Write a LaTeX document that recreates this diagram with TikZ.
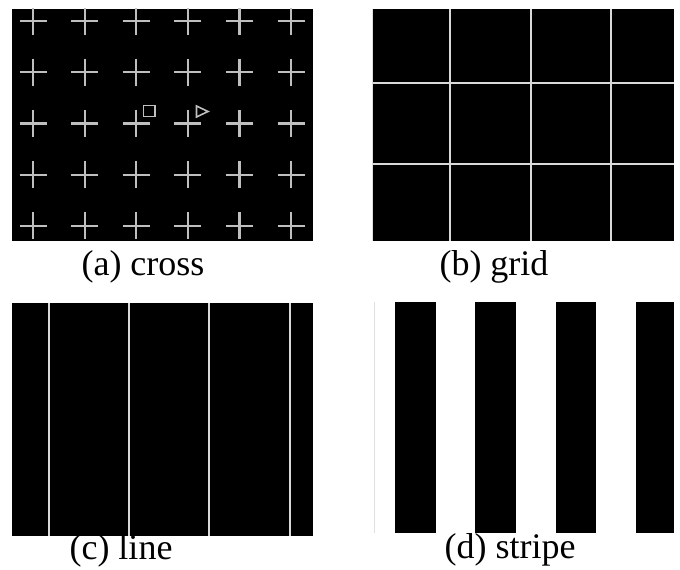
\documentclass[tikz,border=0pt]{standalone}
\usepackage{fontspec}
\setmainfont{Liberation Serif}
\usepackage{tikz}
\usetikzlibrary{positioning}

\begin{document}
\begin{tikzpicture}[x=1pt,y=-1pt,
  wline/.style={draw=gray!30,line width=1.8pt},
  caption/.style={anchor=base,inner sep=0pt,font=\fontsize{36}{42}\selectfont}]
\useasboundingbox (0,0) rectangle (680,570);
% (a) crosses
\fill[black] (12,9) rectangle (313,241);
\foreach \i in {0,...,5}{
  \foreach \j in {0,...,4}{
    \draw[wline,draw=gray!50,line width=2.2pt] ({33+51.6*\i-13.5},{21+51.2*\j}) -- ++(27,0);
    \draw[wline,draw=gray!50,line width=2.2pt] ({33+51.6*\i},{21+51.2*\j-13.5}) -- ++(0,27);
  }
}
\draw[gray!50,line width=1.6pt] (143.5,105.5) rectangle (155,116.5);
\draw[gray!50,line width=1.6pt] (196.5,106) -- (208,111.5) -- (196.5,117) -- cycle;
\node[caption] (capa) at (143,275) {(a) cross};
% (b) grid
\fill[black] (372,9) rectangle (674,241);
\draw[gray!25,line width=1pt] (372.5,9) -- (372.5,241);
\foreach \x in {450,531,611}{\draw[wline] (\x,9) -- (\x,241);}
\foreach \y in {83,164}{\draw[wline] (372,\y) -- (674,\y);}
\node[caption] (capb) at (494,275) {(b) grid};
% (c) lines
\fill[black] (12,303) rectangle (313,536);
\foreach \x in {49,129,209,290}{\draw[wline] (\x,303) -- (\x,536);}
\node[caption] (capc) at (121,559) {(c) line};
% (d) stripes
\draw[gray!25,line width=1pt] (374,302) -- (374,533);
\foreach \x/\w in {395/41,475/41,556/40,636/38}{\fill[black] (\x,302) rectangle ++(\w,231);}
\node[caption] (capd) at (510,558) {(d) stripe};
\end{tikzpicture}
\end{document}
